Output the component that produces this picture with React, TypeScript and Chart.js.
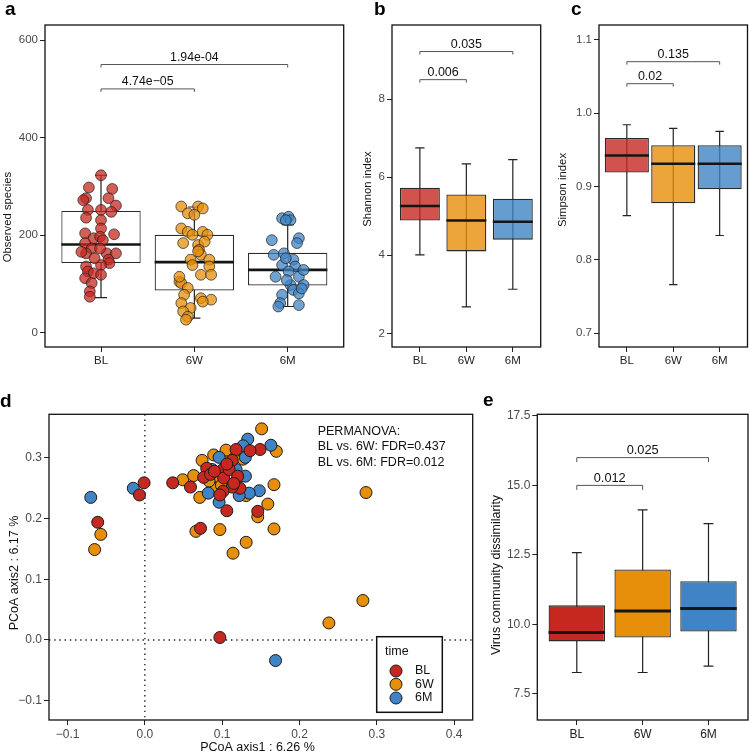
import React, { useEffect, useRef } from "react";
import { Chart, registerables } from "chart.js";

Chart.register(...registerables);

const FONT = "'Liberation Sans', Arial, Helvetica, sans-serif";

// ---------- shared ----------
const categories = ["BL", "6W", "6M"];
const RED = [198, 40, 32];
const ORANGE = [231, 143, 10];
const BLUE = [64, 132, 198];
const palette = [RED, ORANGE, BLUE];

// ---------- panel a : observed species ----------
const aMin = [72, 30, 54];
const aQ1 = [143, 87, 97];
const aMedian = [181, 145, 129];
const aQ3 = [250, 201, 164];
const aMax = [323, 258, 222];
const aYTicks = [0, 200, 400, 600];
const aYTickLabels = ["0", "200", "400", "600"];
const aBracketFrom = [1, 1];
const aBracketTo = [2, 3];
const aBracketY = [500, 550];
const aBracketLabels = ["4.74e\u221205", "1.94e-04"];
const aBLx = [1.0, 0.87, 1.12, 0.84, 0.81, 1.08, 1.16, 0.86, 1.0, 1.11, 0.84, 1.0, 1.0, 0.83, 1.14, 0.92, 0.99, 1.02, 0.83, 0.9, 0.84, 1.06, 1.16, 1.08, 1.09, 1.0, 0.84, 0.86, 0.92, 1.0, 0.83, 0.9, 0.88, 0.88, 0.79, 0.99, 0.93];
const aBLy = [323, 298, 295, 276, 272, 276, 261, 252, 252, 248, 236, 231, 214, 204, 202, 194, 197, 190, 184, 173, 163, 163, 163, 150, 143, 139, 136, 126, 122, 119, 112, 102, 85, 74, 166, 173, 153];
const a6Wx = [1.86, 1.93, 2.04, 2.09, 2.0, 1.86, 1.93, 1.98, 2.09, 2.14, 1.88, 2.04, 2.11, 2.05, 2.07, 1.96, 2.16, 1.98, 2.16, 2.07, 2.18, 1.84, 1.86, 1.93, 1.89, 2.07, 2.18, 1.86, 1.96, 1.88, 1.93, 1.91, 2.09, 2.04, 1.84];
const a6Wy = [259, 245, 259, 255, 242, 214, 207, 201, 207, 201, 184, 180, 187, 170, 160, 150, 150, 139, 136, 119, 119, 105, 102, 92, 78, 71, 68, 61, 51, 44, 33, 27, 64, 167, 115];
const a6Mx = [2.94, 3.01, 3.03, 2.98, 2.83, 3.12, 3.1, 2.85, 2.96, 3.06, 2.94, 3.08, 3.01, 2.87, 3.12, 3.03, 3.17, 3.06, 3.12, 2.94, 2.92, 2.9, 3.12, 2.98, 3.17, 2.99, 3.15];
const a6My = [235, 238, 231, 231, 190, 194, 184, 160, 163, 150, 139, 136, 126, 115, 115, 98, 98, 88, 81, 78, 61, 54, 57, 153, 129, 108, 91];

// ---------- panel b : Shannon ----------
const bMin = [4.01, 2.68, 3.13];
const bQ1 = [4.89, 4.1, 4.4];
const bMedian = [5.26, 4.89, 4.86];
const bQ3 = [5.73, 5.56, 5.45];
const bMax = [6.75, 6.34, 6.45];
const bYTicks = [2, 4, 6, 8];
const bYTickLabels = ["2", "4", "6", "8"];
const bBracketFrom = [1, 1];
const bBracketTo = [2, 3];
const bBracketY = [8.5, 9.22];
const bBracketLabels = ["0.006", "0.035"];

// ---------- panel c : Simpson ----------
const cMin = [0.86, 0.766, 0.833];
const cQ1 = [0.919, 0.877, 0.896];
const cMedian = [0.942, 0.931, 0.931];
const cQ3 = [0.966, 0.956, 0.956];
const cMax = [0.984, 0.979, 0.975];
const cYTicks = [0.7, 0.8, 0.9, 1.0, 1.1];
const cYTickLabels = ["0.7", "0.8", "0.9", "1.0", "1.1"];
const cBracketFrom = [1, 1];
const cBracketTo = [2, 3];
const cBracketY = [1.04, 1.07];
const cBracketLabels = ["0.02", "0.135"];

// ---------- panel d : PCoA ----------
const dBLx = [-0.001, -0.007, -0.061, 0.036, 0.059, 0.072, 0.146, 0.106, 0.123, 0.113, 0.101, 0.097, 0.149, 0.136, 0.118, 0.113, 0.101, 0.08, 0.076, 0.085, 0.102, 0.109, 0.12, 0.115, 0.097, 0.09, 0.106];
const dBLy = [0.259, 0.239, 0.194, 0.259, 0.252, 0.184, 0.212, 0.213, 0.25, 0.252, 0.245, 0.004, 0.314, 0.312, 0.314, 0.296, 0.281, 0.283, 0.268, 0.273, 0.267, 0.281, 0.27, 0.258, 0.239, 0.278, 0.29];
const d6Wx = [-0.057, -0.065, 0.049, 0.063, 0.074, 0.071, 0.066, 0.097, 0.114, 0.131, 0.167, 0.167, 0.159, 0.146, 0.131, 0.092, 0.286, 0.282, 0.238, 0.151, 0.17, 0.11, 0.105, 0.089, 0.127, 0.093, 0.099, 0.083, 0.118];
const d6Wy = [0.174, 0.149, 0.264, 0.271, 0.296, 0.235, 0.179, 0.182, 0.143, 0.161, 0.183, 0.256, 0.224, 0.203, 0.238, 0.25, 0.243, 0.065, 0.028, 0.348, 0.311, 0.305, 0.313, 0.305, 0.298, 0.27, 0.255, 0.262, 0.262];
const d6Mx = [-0.07, -0.015, 0.148, 0.135, 0.122, 0.096, 0.082, 0.169, 0.133, 0.127, 0.163, 0.13, 0.096, 0.118, 0.13, 0.087, 0.105];
const d6My = [0.235, 0.25, 0.246, 0.242, 0.238, 0.227, 0.242, -0.034, 0.331, 0.32, 0.321, 0.301, 0.301, 0.281, 0.27, 0.281, 0.285];
const dXTicks = [-0.1, 0, 0.1, 0.2, 0.3, 0.4];
const dXTickLabels = ["\u22120.1", "0.0", "0.1", "0.2", "0.3", "0.4"];
const dYTicks = [-0.1, 0, 0.1, 0.2, 0.3];
const dYTickLabels = ["\u22120.1", "0.0", "0.1", "0.2", "0.3"];
const dXTitle = "PCoA axis1 : 6.26 %";
const dYTitle = "PCoA axis2 : 6.17 %";
const dNote = ["PERMANOVA:", "BL vs. 6W: FDR=0.437", "BL vs. 6M: FDR=0.012"];
const dLegendTitle = "time";

// ---------- panel e : dissimilarity ----------
const eMin = [8.26, 8.26, 8.49];
const eQ1 = [9.38, 9.52, 9.74];
const eMedian = [9.7, 10.48, 10.57];
const eQ3 = [10.68, 11.97, 11.55];
const eMax = [12.58, 14.12, 13.62];
const eYTicks = [7.5, 10, 12.5, 15, 17.5];
const eYTickLabels = ["7.5", "10.0", "12.5", "15.0", "17.5"];
const eBracketFrom = [1, 1];
const eBracketTo = [2, 3];
const eBracketY = [15.0, 16.0];
const eBracketLabels = ["0.012", "0.025"];

// ---------- helpers ----------
const rgba = (c: number[], a: number) => `rgba(${c[0]},${c[1]},${c[2]},${a})`;

type Rect = { left: number; top: number; width: number; height: number };
type Area = { l: number; t: number; r: number; b: number };

type BoxSpec = {
  letter: string;
  canvas: Rect;
  area: Area;
  letterAt: [number, number];
  yTitle: string;
  yTitleAt: [number, number];
  yMin: number;
  yMax: number;
  yTicks: number[];
  yTickLabels: string[];
  min: number[];
  q1: number[];
  med: number[];
  q3: number[];
  max: number[];
  fill: string[];
  boxWidth: number;
  capWidth: number;
  medianWidth: number;
  boxBorder: number;
  bFrom: number[];
  bTo: number[];
  bY: number[];
  bLabels: string[];
  tip: number;
  bracketSize: number;
  tickSize: number;
  catSize: number;
  titleSize: number;
  points?: { xs: number[]; ys: number[]; rgb: number[] }[];
};

function drawLetter(ctx: CanvasRenderingContext2D, letter: string, at: [number, number], c: Rect) {
  ctx.save();
  ctx.fillStyle = "#000";
  ctx.font = `bold 19px ${FONT}`;
  ctx.textAlign = "left";
  ctx.textBaseline = "alphabetic";
  ctx.fillText(letter, at[0] - c.left, at[1] - c.top);
  ctx.restore();
}

function drawVTitle(ctx: CanvasRenderingContext2D, text: string, at: [number, number], c: Rect, size: number) {
  ctx.save();
  ctx.translate(at[0] - c.left, at[1] - c.top);
  ctx.rotate(-Math.PI / 2);
  ctx.fillStyle = "#111";
  ctx.font = `${size}px ${FONT}`;
  ctx.textAlign = "center";
  ctx.textBaseline = "middle";
  ctx.fillText(text, 0, 0);
  ctx.restore();
}

function drawBorder(chart: any) {
  const { ctx, chartArea: ca } = chart;
  ctx.save();
  ctx.strokeStyle = "#111";
  ctx.lineWidth = 1.3;
  ctx.strokeRect(ca.left, ca.top, ca.right - ca.left, ca.bottom - ca.top);
  ctx.restore();
}

function makeBoxPlugin(spec: BoxSpec) {
  return {
    id: "boxpanel_" + spec.letter,
    beforeDatasetsDraw(chart: any) {
      const ctx = chart.ctx;
      const xs = chart.scales.x;
      const ys = chart.scales.y;
      ctx.save();
      ctx.strokeStyle = "#222";
      ctx.lineWidth = 1.2;
      spec.min.forEach((mn: number, i: number) => {
        const cx = xs.getPixelForValue(i + 1);
        const half = (xs.getPixelForValue(i + 1 + spec.capWidth / 2) - xs.getPixelForValue(i + 1 - spec.capWidth / 2)) / 2;
        const yT = ys.getPixelForValue(spec.max[i]);
        const yB = ys.getPixelForValue(mn);
        ctx.beginPath();
        ctx.moveTo(cx, yT);
        ctx.lineTo(cx, yB);
        ctx.moveTo(cx - half, yT);
        ctx.lineTo(cx + half, yT);
        ctx.moveTo(cx - half, yB);
        ctx.lineTo(cx + half, yB);
        ctx.stroke();
      });
      ctx.restore();
    },
    afterDatasetDraw(chart: any, args: any) {
      if (args.index !== 0) return;
      const ctx = chart.ctx;
      const ys = chart.scales.y;
      const meta = chart.getDatasetMeta(0);
      ctx.save();
      ctx.strokeStyle = "#151515";
      ctx.lineWidth = spec.medianWidth;
      meta.data.forEach((bar: any, i: number) => {
        const p = bar.getProps(["x", "width"], true);
        const y = ys.getPixelForValue(spec.med[i]);
        ctx.beginPath();
        ctx.moveTo(p.x - p.width / 2, y);
        ctx.lineTo(p.x + p.width / 2, y);
        ctx.stroke();
      });
      ctx.restore();
    },
    afterDraw(chart: any) {
      const ctx = chart.ctx;
      const xs = chart.scales.x;
      const ys = chart.scales.y;
      drawBorder(chart);
      ctx.save();
      spec.bFrom.forEach((f: number, k: number) => {
        const x1 = xs.getPixelForValue(f);
        const x2 = xs.getPixelForValue(spec.bTo[k]);
        const y = ys.getPixelForValue(spec.bY[k]);
        ctx.strokeStyle = "#555";
        ctx.lineWidth = 1;
        ctx.beginPath();
        ctx.moveTo(x1, y + spec.tip);
        ctx.lineTo(x1, y);
        ctx.lineTo(x2, y);
        ctx.lineTo(x2, y + spec.tip);
        ctx.stroke();
        ctx.fillStyle = "#111";
        ctx.font = `${spec.bracketSize}px ${FONT}`;
        ctx.textAlign = "center";
        ctx.textBaseline = "alphabetic";
        ctx.fillText(spec.bLabels[k], (x1 + x2) / 2, y - 3.5);
      });
      ctx.restore();
      drawLetter(ctx, spec.letter, spec.letterAt, spec.canvas);
      drawVTitle(ctx, spec.yTitle, spec.yTitleAt, spec.canvas, spec.titleSize);
    },
  };
}

function boxConfig(spec: BoxSpec): any {
  const c = spec.canvas;
  const a = spec.area;
  const datasets: any[] = [
    {
      type: "bar",
      label: "box",
      data: categories.map((_, i) => ({ x: i + 1, y: [spec.q1[i], spec.q3[i]] })),
      backgroundColor: spec.fill,
      borderColor: "#2b2b2b",
      borderWidth: spec.boxBorder,
      borderSkipped: false,
      barPercentage: spec.boxWidth,
      categoryPercentage: 1,
      order: 2,
    },
  ];
  (spec.points || []).forEach((p, k) =>
    datasets.push({
      type: "scatter",
      label: categories[k],
      data: p.xs.map((x, i) => ({ x, y: p.ys[i] })),
      backgroundColor: rgba(p.rgb, 0.75),
      borderColor: "rgba(25,25,25,0.75)",
      borderWidth: 0.9,
      pointRadius: 5.4,
      order: 1,
    })
  );
  return {
    type: "bar",
    data: { datasets },
    options: {
      animation: false,
      responsive: false,
      maintainAspectRatio: false,
      devicePixelRatio: 1,
      events: [],
      layout: { padding: { left: 0, top: a.t - c.top, right: c.left + c.width - a.r, bottom: 0 } },
      plugins: { legend: { display: false }, tooltip: { enabled: false } },
      scales: {
        x: {
          type: "linear",
          min: 0.4,
          max: 3.6,
          offset: false,
          afterBuildTicks: (s: any) => {
            s.ticks = categories.map((_, i) => ({ value: i + 1 }));
          },
          afterFit: (s: any) => {
            s.height = c.top + c.height - a.b;
          },
          ticks: {
            autoSkip: false,
            maxRotation: 0,
            padding: 2,
            color: "#222",
            font: { family: FONT, size: spec.catSize },
            callback: (v: any) => categories[Math.round(Number(v)) - 1],
          },
          grid: { display: true, offset: false, drawOnChartArea: false, drawTicks: true, tickLength: 5, tickColor: "#222", color: "#222" },
          border: { display: false },
        },
        y: {
          type: "linear",
          min: spec.yMin,
          max: spec.yMax,
          beginAtZero: false,
          afterBuildTicks: (s: any) => {
            s.ticks = spec.yTicks.map((v) => ({ value: v }));
          },
          afterFit: (s: any) => {
            s.width = a.l - c.left;
          },
          ticks: {
            autoSkip: false,
            padding: 2,
            color: "#4a4a4a",
            font: { family: FONT, size: spec.tickSize },
            callback: (_v: any, i: number) => spec.yTickLabels[i],
          },
          grid: { display: true, drawOnChartArea: false, drawTicks: true, tickLength: 5, tickColor: "#222", color: "#222" },
          border: { display: false },
        },
      },
    },
    plugins: [makeBoxPlugin(spec)],
  };
}

// ---------- specs ----------
const specA: BoxSpec = {
  letter: "a",
  canvas: { left: 0, top: 0, width: 350, height: 370 },
  area: { l: 45, t: 25, r: 345, b: 347 },
  letterAt: [5, 15],
  yTitle: "Observed species",
  yTitleAt: [7.5, 217],
  yMin: -29,
  yMax: 631,
  yTicks: aYTicks,
  yTickLabels: aYTickLabels,
  min: aMin,
  q1: aQ1,
  med: aMedian,
  q3: aQ3,
  max: aMax,
  fill: ["#ffffff", "#ffffff", "#ffffff"],
  boxWidth: 0.85,
  capWidth: 0.13,
  medianWidth: 2.6,
  boxBorder: 1.2,
  bFrom: aBracketFrom,
  bTo: aBracketTo,
  bY: aBracketY,
  bLabels: aBracketLabels,
  tip: 3,
  bracketSize: 12.3,
  tickSize: 11.5,
  catSize: 11.5,
  titleSize: 11.3,
  points: [
    { xs: aBLx, ys: aBLy, rgb: RED },
    { xs: a6Wx, ys: a6Wy, rgb: ORANGE },
    { xs: a6Mx, ys: a6My, rgb: BLUE },
  ],
};

const specB: BoxSpec = {
  letter: "b",
  canvas: { left: 350, top: 0, width: 195, height: 370 },
  area: { l: 392, t: 25, r: 540.7, b: 347 },
  letterAt: [374, 15],
  yTitle: "Shannon index",
  yTitleAt: [367.5, 189],
  yMin: 1.65,
  yMax: 9.9,
  yTicks: bYTicks,
  yTickLabels: bYTickLabels,
  min: bMin,
  q1: bQ1,
  med: bMedian,
  q3: bQ3,
  max: bMax,
  fill: palette.map((p) => rgba(p, 0.8)),
  boxWidth: 0.86,
  capWidth: 0.2,
  medianWidth: 2.5,
  boxBorder: 1.3,
  bFrom: bBracketFrom,
  bTo: bBracketTo,
  bY: bBracketY,
  bLabels: bBracketLabels,
  tip: 3,
  bracketSize: 12.5,
  tickSize: 11.5,
  catSize: 11.5,
  titleSize: 11.3,
};

const specC: BoxSpec = {
  letter: "c",
  canvas: { left: 545, top: 0, width: 204, height: 370 },
  area: { l: 599, t: 25, r: 747.5, b: 347 },
  letterAt: [571, 15],
  yTitle: "Simpson index",
  yTitleAt: [563, 190],
  yMin: 0.681,
  yMax: 1.12,
  yTicks: cYTicks,
  yTickLabels: cYTickLabels,
  min: cMin,
  q1: cQ1,
  med: cMedian,
  q3: cQ3,
  max: cMax,
  fill: palette.map((p) => rgba(p, 0.8)),
  boxWidth: 0.95,
  capWidth: 0.18,
  medianWidth: 2.5,
  boxBorder: 1.3,
  bFrom: cBracketFrom,
  bTo: cBracketTo,
  bY: cBracketY,
  bLabels: cBracketLabels,
  tip: 3,
  bracketSize: 12.5,
  tickSize: 11.5,
  catSize: 11.5,
  titleSize: 11.3,
};

const specE: BoxSpec = {
  letter: "e",
  canvas: { left: 480, top: 380, width: 269, height: 373 },
  area: { l: 537.3, t: 414.3, r: 748, b: 720 },
  letterAt: [483, 406],
  yTitle: "Virus community dissimilarity",
  yTitleAt: [497, 575],
  yMin: 6.55,
  yMax: 17.56,
  yTicks: eYTicks,
  yTickLabels: eYTickLabels,
  min: eMin,
  q1: eQ1,
  med: eMedian,
  q3: eQ3,
  max: eMax,
  fill: palette.map((p) => rgba(p, 1)),
  boxWidth: 0.857,
  capWidth: 0.15,
  medianWidth: 3,
  boxBorder: 1.3,
  bFrom: eBracketFrom,
  bTo: eBracketTo,
  bY: eBracketY,
  bLabels: eBracketLabels,
  tip: 4.5,
  bracketSize: 12.8,
  tickSize: 12,
  catSize: 12,
  titleSize: 12.5,
};

const dCanvas: Rect = { left: 0, top: 380, width: 480, height: 373 };
const dArea: Area = { l: 49, t: 414.3, r: 472.7, b: 720 };

function pcoaConfig(): any {
  const c = dCanvas;
  const a = dArea;
  const sets = [
    { label: categories[0], xs: dBLx, ys: dBLy, rgb: RED, order: 0 },
    { label: categories[1], xs: d6Wx, ys: d6Wy, rgb: ORANGE, order: 2 },
    { label: categories[2], xs: d6Mx, ys: d6My, rgb: BLUE, order: 1 },
  ];
  const plugin = {
    id: "pcoa",
    beforeDatasetsDraw(chart: any) {
      const { ctx, chartArea: ca } = chart;
      const x0 = chart.scales.x.getPixelForValue(0);
      const y0 = chart.scales.y.getPixelForValue(0);
      ctx.save();
      ctx.strokeStyle = "#222";
      ctx.lineWidth = 1.4;
      ctx.setLineDash([1.4, 3.8]);
      ctx.beginPath();
      ctx.moveTo(x0, ca.top);
      ctx.lineTo(x0, ca.bottom);
      ctx.moveTo(ca.left, y0);
      ctx.lineTo(ca.right, y0);
      ctx.stroke();
      ctx.restore();
    },
    afterDraw(chart: any) {
      const ctx = chart.ctx;
      drawBorder(chart);
      // PERMANOVA note
      ctx.save();
      ctx.fillStyle = "#111";
      ctx.font = `12.5px ${FONT}`;
      ctx.textAlign = "left";
      ctx.textBaseline = "middle";
      dNote.forEach((line, i) => ctx.fillText(line, 317.7 - c.left, 431.7 + i * 15.3 - c.top));
      // legend
      const lx = 376.7 - c.left;
      const ly = 636.7 - c.top;
      ctx.fillStyle = "#fff";
      ctx.fillRect(lx, ly, 65.6, 75.6);
      ctx.strokeStyle = "#111";
      ctx.lineWidth = 1.5;
      ctx.strokeRect(lx, ly, 65.6, 75.6);
      ctx.fillStyle = "#111";
      ctx.font = `12.5px ${FONT}`;
      ctx.fillText(dLegendTitle, 385 - c.left, 651.7 - c.top);
      const rows = [671, 684.3, 698];
      chart.data.datasets.forEach((ds: any, i: number) => {
        const cy = rows[i] - c.top;
        ctx.beginPath();
        ctx.arc(396 - c.left, cy, 6, 0, Math.PI * 2);
        ctx.fillStyle = ds.backgroundColor;
        ctx.fill();
        ctx.lineWidth = 1;
        ctx.strokeStyle = "#1a1a1a";
        ctx.stroke();
        ctx.fillStyle = "#111";
        ctx.fillText(ds.label, 415 - c.left, cy);
      });
      // x title
      ctx.textAlign = "center";
      ctx.fillText(dXTitle, 257.5 - c.left, 747.3 - c.top);
      ctx.restore();
      drawVTitle(ctx, dYTitle, [15, 573], c, 12.5);
      drawLetter(ctx, "d", [0, 406.7], c);
    },
  };
  return {
    type: "scatter",
    data: {
      datasets: sets.map((s) => ({
        label: s.label,
        data: s.xs.map((x, i) => ({ x, y: s.ys[i] })),
        backgroundColor: rgba(s.rgb, 1),
        borderColor: "#1a1a1a",
        borderWidth: 1,
        pointRadius: 6,
        order: s.order,
      })),
    },
    options: {
      animation: false,
      responsive: false,
      maintainAspectRatio: false,
      devicePixelRatio: 1,
      events: [],
      layout: { padding: { left: 0, top: a.t - c.top, right: c.left + c.width - a.r, bottom: 0 } },
      plugins: { legend: { display: false }, tooltip: { enabled: false } },
      scales: {
        x: {
          type: "linear",
          min: -0.124,
          max: 0.424,
          afterBuildTicks: (s: any) => {
            s.ticks = dXTicks.map((v) => ({ value: v }));
          },
          afterFit: (s: any) => {
            s.height = c.top + c.height - a.b;
          },
          ticks: {
            autoSkip: false,
            maxRotation: 0,
            padding: 2,
            color: "#4a4a4a",
            font: { family: FONT, size: 12 },
            callback: (_v: any, i: number) => dXTickLabels[i],
          },
          grid: { display: true, drawOnChartArea: false, drawTicks: true, tickLength: 5, tickColor: "#222", color: "#222" },
          border: { display: false },
        },
        y: {
          type: "linear",
          min: -0.132,
          max: 0.372,
          afterBuildTicks: (s: any) => {
            s.ticks = dYTicks.map((v) => ({ value: v }));
          },
          afterFit: (s: any) => {
            s.width = a.l - c.left;
          },
          ticks: {
            autoSkip: false,
            padding: 2,
            color: "#4a4a4a",
            font: { family: FONT, size: 12 },
            callback: (_v: any, i: number) => dYTickLabels[i],
          },
          grid: { display: true, drawOnChartArea: false, drawTicks: true, tickLength: 5, tickColor: "#222", color: "#222" },
          border: { display: false },
        },
      },
    },
    plugins: [plugin],
  };
}

const panels: { key: string; rect: Rect; make: () => any }[] = [
  { key: "a", rect: specA.canvas, make: () => boxConfig(specA) },
  { key: "b", rect: specB.canvas, make: () => boxConfig(specB) },
  { key: "c", rect: specC.canvas, make: () => boxConfig(specC) },
  { key: "d", rect: dCanvas, make: pcoaConfig },
  { key: "e", rect: specE.canvas, make: () => boxConfig(specE) },
];

export default function App() {
  const refs = useRef<(HTMLCanvasElement | null)[]>([]);
  useEffect(() => {
    const charts = panels.map((p, i) => new Chart(refs.current[i] as HTMLCanvasElement, p.make()));
    return () => charts.forEach((ch) => ch.destroy());
  }, []);
  return (
    <div style={{ position: "absolute", left: 0, top: 0, width: 749, height: 753, overflow: "hidden", background: "#fff" }}>
      {panels.map((p, i) => (
        <canvas
          key={p.key}
          ref={(el) => {
            refs.current[i] = el;
          }}
          width={p.rect.width}
          height={p.rect.height}
          style={{ position: "absolute", left: p.rect.left, top: p.rect.top, width: p.rect.width, height: p.rect.height }}
        />
      ))}
    </div>
  );
}
